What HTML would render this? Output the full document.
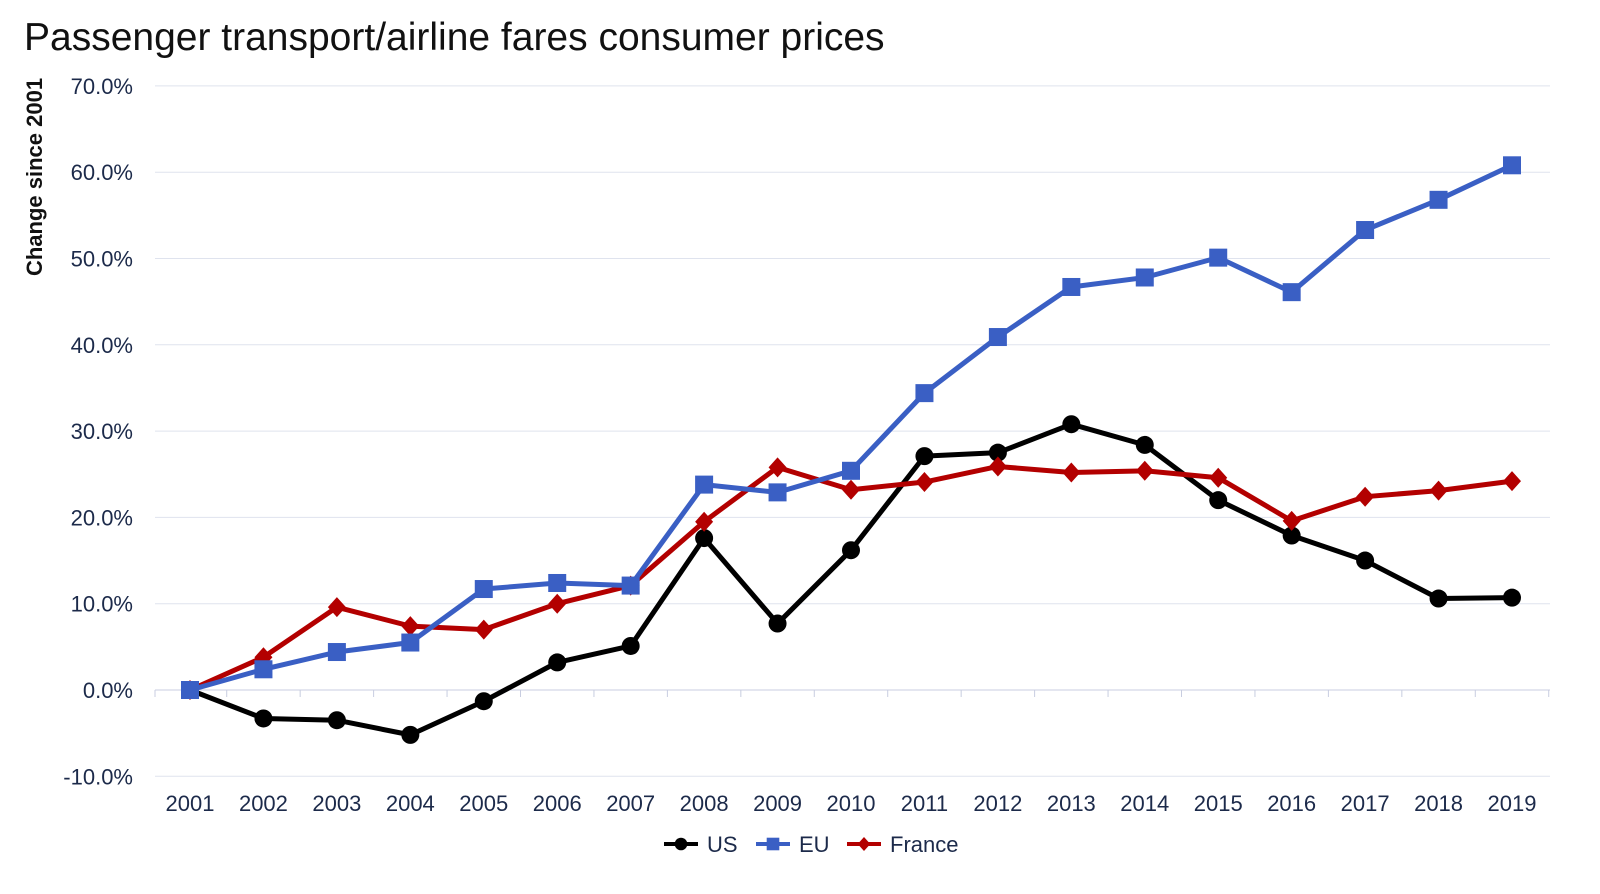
<!DOCTYPE html>
<html><head><meta charset="utf-8"><style>
body{margin:0;background:#fff;width:1600px;height:889px;overflow:hidden;font-family:"Liberation Sans",Arial,sans-serif}
</style></head><body>
<svg id="chart" width="1600" height="889" xmlns="http://www.w3.org/2000/svg">
<text x="24" y="50" font-size="39" fill="#111">Passenger transport/airline fares consumer prices</text>
<text transform="translate(42,177) rotate(-90)" text-anchor="middle" font-size="22" font-weight="bold" fill="#111">Change since 2001</text>
<g id="grid"></g><g id="axes"></g><g id="series"></g><g id="legend"></g>
</svg>
<script>
const years=['2001','2002','2003','2004','2005','2006','2007','2008','2009','2010','2011','2012','2013','2014','2015','2016','2017','2018','2019'];
const yTicks=[-10,0,10,20,30,40,50,60,70];
const usValues=[0,-3.3,-3.5,-5.2,-1.3,3.2,5.1,17.6,7.7,16.2,27.1,27.5,30.8,28.4,22.0,17.9,15.0,10.6,10.7];
const euValues=[0,2.4,4.4,5.5,11.7,12.4,12.1,23.8,22.9,25.4,34.4,40.9,46.7,47.8,50.1,46.1,53.3,56.8,60.8];
const franceValues=[0,3.8,9.6,7.4,7.0,10.0,12.1,19.5,25.8,23.2,24.1,25.9,25.2,25.4,24.6,19.6,22.4,23.1,24.2];
const NS='http://www.w3.org/2000/svg';
const left=155,right=1550,x0=190,step=(1512-190)/18;
const xs=i=>x0+i*step;
const ys=v=>690-v*8.63;
function mk(tag,attrs,parent,text){const e=document.createElementNS(NS,tag);for(const k in attrs)e.setAttribute(k,attrs[k]);if(text!==undefined)e.textContent=text;parent.appendChild(e);return e;}
const grid=document.getElementById('grid'),axes=document.getElementById('axes'),ser=document.getElementById('series'),leg=document.getElementById('legend');
yTicks.forEach(t=>{
 const l=mk('line',{x1:left,x2:right,y1:ys(t),y2:ys(t),stroke:t===0?'#c8cde0':'#dfe3ee','stroke-width':1},grid);
 
 
 const tx=mk('text',{x:133,y:ys(t)+8,'text-anchor':'end','font-size':22,fill:'#1c2a4a'},axes,t.toFixed(1)+'%');
 
 
});
for(let i=0;i<=years.length;i++){
 const x=Math.min(right,Math.max(left,xs(i)-step/2));
 const tk=mk('line',{x1:x,x2:x,y1:690,y2:697,stroke:'#c8cde0'},axes);
 
 
}
years.forEach((y,i)=>{
 const tx=mk('text',{x:xs(i),y:811,'text-anchor':'middle','font-size':22,fill:'#1c2a4a'},axes,y);
 
 
});
function marker(type,x,y,c,p){
 if(type==='circle')return mk('circle',{cx:x,cy:y,r:9,fill:c},p);
 if(type==='square')return mk('rect',{x:x-9,y:y-9,width:18,height:18,fill:c},p);
 return mk('polygon',{points:`${x},${y-10} ${x+9},${y} ${x},${y+10} ${x-9},${y}`,fill:c},p);
}
const seriesList=[['us',usValues,'#000','circle'],['eu',euValues,'#3a5fc4','square'],['france',franceValues,'#b30000','diamond']];
[seriesList[0],seriesList[2],seriesList[1]].forEach(([n,vals,c,m])=>{
 const g=mk('g',{},ser);
 
 
 const pl=mk('polyline',{points:vals.map((v,i)=>xs(i)+','+ys(v)).join(' '),fill:'none',stroke:c,'stroke-width':5,'stroke-linejoin':'round'},g);
 
 
 vals.forEach((v,i)=>{const mm=marker(m,xs(i),ys(v),c,g);
 
 });
});
const legItems=[['US','#000','circle',664],['EU','#3a5fc4','square',756],['France','#b30000','diamond',847]];
legItems.forEach(([t,c,m,x])=>{
 const g=mk('g',{},leg);
 
 
 mk('line',{x1:x,x2:x+34,y1:844,y2:844,stroke:c,'stroke-width':4},g);
 const mm=marker(m,x+17,844,c,g);mm.setAttribute('transform',`translate(${x+17},844) scale(0.7) translate(${-(x+17)},-844)`);
 mk('text',{x:x+43,y:852,'font-size':22,fill:'#1c2a4a'},g,t);
});
</script>
</body></html>
